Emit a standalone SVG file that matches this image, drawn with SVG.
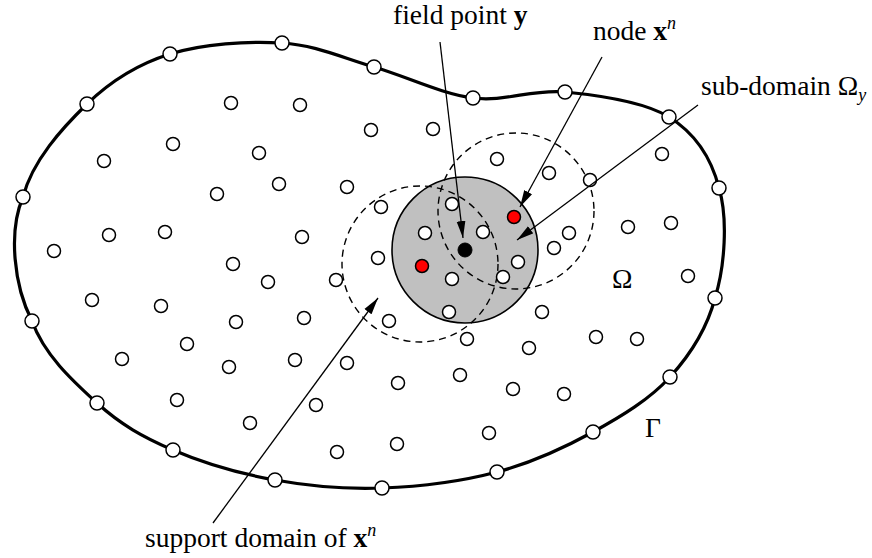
<svg xmlns="http://www.w3.org/2000/svg" width="872" height="558" viewBox="0 0 872 558">
<style>
.bd{fill:none;stroke:#000;stroke-width:3.2}
.nd{fill:#fff;stroke:#000;stroke-width:1.5}
.rd{fill:#ff0000;stroke:#000;stroke-width:1.5}
.bk{fill:#000;stroke:#000;stroke-width:1}
.dash{fill:none;stroke:#000;stroke-width:1.4;stroke-dasharray:7 5}
.sub{fill:#c0c0c0;stroke:#000;stroke-width:1.6}
.ar{fill:none;stroke:#000;stroke-width:1.3;marker-end:url(#ah)}
.bf{font-weight:bold}
.it{font-style:italic;font-size:18px}
</style>
<defs>
<marker id="ah" markerWidth="18" markerHeight="10" refX="17" refY="5" orient="auto" markerUnits="userSpaceOnUse"><path d="M0,0.6 L17,5 L0,9.4 Z" fill="#000"/></marker>
</defs>
<g id="boundary">
<path class="bd" d="M170,54 C202.5,43.8 248,40.8 282,43 C316,45.2 342.2,57.8 374,67 C405.8,76.2 441.2,93.8 473,98 C504.8,102.2 532.3,88.8 565,92 C597.7,95.2 643.3,101 669,117 C694.7,133 711.3,157.8 719,188 C728,218 725,266 715,298 C706.8,329.5 690.3,354.7 670,377 C649.7,399.3 621.8,416.2 593,432 C564.2,447.8 532.2,462.7 497,472 C461.8,481.3 419,486.7 382,488 C345,489.3 309.8,486.3 275,480 C240.2,473.7 202.7,462.8 173,450 C143.3,437.2 120.5,424.5 97,403 C73.5,381.5 44.3,355.3 32,321 C14,286 8,232 23,197 C32.2,160.8 62.5,127.8 87,104 C111.5,80.2 137.5,64.2 170,54 Z"/>
</g>
<g id="subdomain"><circle class="sub" cx="465" cy="250" r="73"/></g>
<g id="support-domains">
<circle class="dash" cx="420" cy="264" r="78"/>
<circle class="dash" cx="516" cy="211" r="78"/>
</g>
<g id="boundary-nodes">
<g id="b0"><circle class="nd" cx="170" cy="54" r="7"/></g>
<g id="b1"><circle class="nd" cx="282" cy="43" r="7"/></g>
<g id="b2"><circle class="nd" cx="374" cy="67" r="7"/></g>
<g id="b3"><circle class="nd" cx="473" cy="98" r="7"/></g>
<g id="b4"><circle class="nd" cx="565" cy="92" r="7"/></g>
<g id="b5"><circle class="nd" cx="669" cy="117" r="7"/></g>
<g id="b6"><circle class="nd" cx="719" cy="188" r="7"/></g>
<g id="b7"><circle class="nd" cx="715" cy="298" r="7"/></g>
<g id="b8"><circle class="nd" cx="670" cy="377" r="7"/></g>
<g id="b9"><circle class="nd" cx="593" cy="432" r="7"/></g>
<g id="b10"><circle class="nd" cx="497" cy="472" r="7"/></g>
<g id="b11"><circle class="nd" cx="382" cy="488" r="7"/></g>
<g id="b12"><circle class="nd" cx="275" cy="480" r="7"/></g>
<g id="b13"><circle class="nd" cx="173" cy="450" r="7"/></g>
<g id="b14"><circle class="nd" cx="97" cy="403" r="7"/></g>
<g id="b15"><circle class="nd" cx="32" cy="321" r="7"/></g>
<g id="b16"><circle class="nd" cx="23" cy="197" r="7"/></g>
<g id="b17"><circle class="nd" cx="87" cy="104" r="7"/></g>
</g>
<g id="interior-nodes">
<g id="n1"><circle class="nd" cx="231" cy="103" r="6.5"/></g>
<g id="n2"><circle class="nd" cx="173" cy="144" r="6.5"/></g>
<g id="n3"><circle class="nd" cx="259" cy="153" r="6.5"/></g>
<g id="n4"><circle class="nd" cx="104" cy="161" r="6.5"/></g>
<g id="n5"><circle class="nd" cx="279" cy="184" r="6.5"/></g>
<g id="n6"><circle class="nd" cx="217" cy="194" r="6.5"/></g>
<g id="n7"><circle class="nd" cx="109" cy="235" r="6.5"/></g>
<g id="n8"><circle class="nd" cx="165" cy="232" r="6.5"/></g>
<g id="n9"><circle class="nd" cx="54" cy="251" r="6.5"/></g>
<g id="n10"><circle class="nd" cx="233" cy="264" r="6.5"/></g>
<g id="n11"><circle class="nd" cx="300" cy="105" r="6.5"/></g>
<g id="n12"><circle class="nd" cx="371" cy="130" r="6.5"/></g>
<g id="n13"><circle class="nd" cx="433" cy="129" r="6.5"/></g>
<g id="n14"><circle class="nd" cx="497" cy="159" r="6.5"/></g>
<g id="n15"><circle class="nd" cx="549" cy="173" r="6.5"/></g>
<g id="n16"><circle class="nd" cx="590" cy="180" r="6.5"/></g>
<g id="n17"><circle class="nd" cx="347" cy="187" r="6.5"/></g>
<g id="n18"><circle class="nd" cx="381" cy="207" r="6.5"/></g>
<g id="n19"><circle class="nd" cx="452" cy="204" r="6.5"/></g>
<g id="n20"><circle class="nd" cx="425" cy="233" r="6.5"/></g>
<g id="n21"><circle class="nd" cx="483" cy="232" r="6.5"/></g>
<g id="n22"><circle class="nd" cx="569" cy="233" r="6.5"/></g>
<g id="n23"><circle class="nd" cx="554" cy="248" r="6.5"/></g>
<g id="n24"><circle class="nd" cx="302" cy="237" r="6.5"/></g>
<g id="n25"><circle class="nd" cx="378" cy="258" r="6.5"/></g>
<g id="n26"><circle class="nd" cx="518" cy="262" r="6.5"/></g>
<g id="n27"><circle class="nd" cx="336" cy="280" r="6.5"/></g>
<g id="n28"><circle class="nd" cx="452" cy="279" r="6.5"/></g>
<g id="n29"><circle class="nd" cx="503" cy="277" r="6.5"/></g>
<g id="n30"><circle class="nd" cx="662" cy="154" r="6.5"/></g>
<g id="n31"><circle class="nd" cx="628" cy="227" r="6.5"/></g>
<g id="n32"><circle class="nd" cx="671" cy="223" r="6.5"/></g>
<g id="n33"><circle class="nd" cx="688" cy="276" r="6.5"/></g>
<g id="n34"><circle class="nd" cx="268" cy="282" r="6.5"/></g>
<g id="n35"><circle class="nd" cx="92" cy="300" r="6.5"/></g>
<g id="n36"><circle class="nd" cx="161" cy="306" r="6.5"/></g>
<g id="n37"><circle class="nd" cx="236" cy="322" r="6.5"/></g>
<g id="n38"><circle class="nd" cx="304" cy="318" r="6.5"/></g>
<g id="n39"><circle class="nd" cx="187" cy="344" r="6.5"/></g>
<g id="n40"><circle class="nd" cx="122" cy="359" r="6.5"/></g>
<g id="n41"><circle class="nd" cx="229" cy="367" r="6.5"/></g>
<g id="n42"><circle class="nd" cx="295" cy="360" r="6.5"/></g>
<g id="n43"><circle class="nd" cx="177" cy="400" r="6.5"/></g>
<g id="n44"><circle class="nd" cx="250" cy="423" r="6.5"/></g>
<g id="n45"><circle class="nd" cx="449" cy="312" r="6.5"/></g>
<g id="n46"><circle class="nd" cx="389" cy="321" r="6.5"/></g>
<g id="n47"><circle class="nd" cx="542" cy="312" r="6.5"/></g>
<g id="n48"><circle class="nd" cx="467" cy="339" r="6.5"/></g>
<g id="n49"><circle class="nd" cx="529" cy="348" r="6.5"/></g>
<g id="n50"><circle class="nd" cx="347" cy="363" r="6.5"/></g>
<g id="n51"><circle class="nd" cx="398" cy="383" r="6.5"/></g>
<g id="n52"><circle class="nd" cx="460" cy="375" r="6.5"/></g>
<g id="n53"><circle class="nd" cx="513" cy="389" r="6.5"/></g>
<g id="n54"><circle class="nd" cx="564" cy="394" r="6.5"/></g>
<g id="n55"><circle class="nd" cx="316" cy="405" r="6.5"/></g>
<g id="n56"><circle class="nd" cx="489" cy="433" r="6.5"/></g>
<g id="n57"><circle class="nd" cx="337" cy="452" r="6.5"/></g>
<g id="n58"><circle class="nd" cx="397" cy="444" r="6.5"/></g>
<g id="n59"><circle class="nd" cx="596" cy="337" r="6.5"/></g>
<g id="n60"><circle class="nd" cx="637" cy="339" r="6.5"/></g>
<g id="node-xn"><circle class="rd" cx="514" cy="217" r="6.5"/></g>
<g id="node-red2"><circle class="rd" cx="422" cy="266" r="6.5"/></g>
<g id="field-point"><circle class="bk" cx="465" cy="250" r="7"/></g>
</g>
<g id="connectors">
<line class="ar" x1="440" y1="42" x2="463" y2="238"/>
<line class="ar" x1="602" y1="57" x2="520" y2="207"/>
<line class="ar" x1="698" y1="105" x2="517" y2="240"/>
<line class="ar" x1="213" y1="523" x2="378" y2="298"/>
</g>
<g id="labels" font-family="'Liberation Serif', 'Times New Roman', 'DejaVu Serif', serif" font-size="27.5" fill="#000">
<text x="393" y="24">field point <tspan class="bf">y</tspan></text>
<text x="593" y="40">node <tspan class="bf">x</tspan><tspan class="it" dy="-11">n</tspan></text>
<text x="701" y="95">sub-domain Ω<tspan class="it" dy="6">y</tspan></text>
<text x="145" y="547">support domain of <tspan class="bf">x</tspan><tspan class="it" dy="-11">n</tspan></text>
<text x="612" y="288">Ω</text>
<text x="645" y="437">Γ</text>
</g>
</svg>
